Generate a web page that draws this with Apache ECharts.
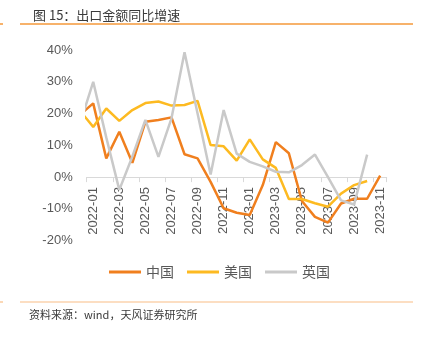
<!DOCTYPE html>
<html>
<head>
<meta charset="utf-8">
<script src="https://cdn.jsdelivr.net/npm/echarts@6/dist/echarts.min.js"></script>
<style>
html,body{margin:0;padding:0;background:#fff;}
#chart{width:422px;height:342px;}
</style>
</head>
<body>
<div id="chart"></div>
<script>
// months (first one, 2021-12, lies just left of the visible axis and is clipped)
var months = ['2021-12','2022-01','2022-02','2022-03','2022-04','2022-05','2022-06','2022-07','2022-08','2022-09','2022-10','2022-11','2022-12',
              '2023-01','2023-02','2023-03','2023-04','2023-05','2023-06','2023-07','2023-08','2023-09','2023-10','2023-11'];
var china = [19.7, 23.2, 5.9, 14.3, 4.5, 17.4, 18.0, 18.8, 7.2, 5.9, -1.5, -9.8, -11.2, -11.9, -2.5, 11.0, 7.5, -7.5, -12.5, -14.3, -8.3, -6.8, -6.8, 0.5];
var usa   = [20.8, 15.8, 21.6, 17.7, 21.1, 23.3, 23.8, 22.5, 22.7, 24.0, 10.1, 9.7, 5.2, 11.9, 5.6, 2.9, -6.9, -6.9, -8.2, -9.3, -5.2, -2.5, -1.2, null];
var uk    = [17.0, 30.0, 12.5, -4.0, 6.5, 18.0, 6.4, 18.5, 39.3, 20.0, 0.8, 21.1, 7.4, 4.8, 3.4, 1.7, 1.5, 3.8, 7.1, 0.0, -7.3, -8.6, 7.1, null];
var seriesNames = ['中国', '美国', '英国'];
var yTicks = [-20, -10, 0, 10, 20, 30, 40];
var titleText = '图 15：出口金额同比增速';
var sourceText = '资料来源：wind，天风证券研究所';

var axisCats = months.slice(1);
function pairs(arr) {
  return arr.map(function (v, i) { return [i - 1, v]; });
}
var FONT = "'Liberation Sans','Noto Sans CJK SC',sans-serif";
var colors = ['#F07F1E', '#FDBA21', '#C9C9C9'];

var gridTop = 50, gridBottomPx = 240.7;
var yMin = yTicks[0], yMax = yTicks[yTicks.length - 1];
// move the category axis up onto the zero line of the value axis
var zeroOffset = -((gridBottomPx - gridTop) * (0 - yMin) / (yMax - yMin));

var chart = echarts.init(document.getElementById('chart'), null, {renderer: 'canvas'});
chart.setOption({
  animation: false,
  backgroundColor: '#ffffff',
  textStyle: {fontFamily: FONT},
  title: {
    text: titleText,
    left: 28, top: 4,
    textStyle: {fontSize: 13, fontWeight: 'normal', color: '#3a3a3a', fontFamily: "'Noto Sans CJK SC',sans-serif"}
  },
  graphic: [
    {type: 'line', shape: {x1: 20, y1: 24, x2: 413, y2: 24}, style: {stroke: '#F5983A', lineWidth: 1.5}},
    {type: 'line', shape: {x1: 0, y1: 24, x2: 3, y2: 24}, style: {stroke: '#F5983A', lineWidth: 1.5}},
    {type: 'line', shape: {x1: 20, y1: 302, x2: 413, y2: 302}, style: {stroke: '#F9BE86', lineWidth: 1.2}},
    {type: 'line', shape: {x1: 0, y1: 302, x2: 3, y2: 302}, style: {stroke: '#F9BE86', lineWidth: 1.2}},
    {type: 'text', left: 29, top: 309, style: {text: sourceText, fill: '#3a3a3a', font: "11px 'Noto Sans CJK SC',sans-serif"}}
  ],
  legend: {
    left: 109, top: 265,
    icon: 'rect', itemWidth: 32, itemHeight: 3, itemGap: 13,
    padding: 0,
    textStyle: {fontSize: 14, color: '#595959', fontFamily: "'Noto Sans CJK SC',sans-serif"},
    data: seriesNames
  },
  grid: {left: 86.7, right: 35.3, top: gridTop, bottom: 342 - gridBottomPx, containLabel: false},
  xAxis: [
    {
      type: 'category', data: axisCats, boundaryGap: true, position: 'bottom',
      offset: zeroOffset,
      axisLine: {show: true, onZero: false, lineStyle: {color: '#D9D9D9', width: 1}},
      axisTick: {show: true, length: 5, lineStyle: {color: '#D9D9D9'}},
      axisLabel: {interval: 1, rotate: 90, align: 'right', verticalAlign: 'middle', margin: 10,
                  fontSize: 13, color: '#595959', fontFamily: FONT},
      splitLine: {show: false}
    },
    {
      type: 'value', min: -0.5, max: 22.5, show: false, position: 'top'
    }
  ],
  yAxis: {
    type: 'value', min: yMin, max: yMax, interval: 10,
    axisLine: {show: false}, axisTick: {show: false}, splitLine: {show: false},
    axisLabel: {formatter: '{value}%', fontSize: 13, color: '#595959', margin: 14, fontFamily: FONT}
  },
  series: [
    {name: seriesNames[0], type: 'line', xAxisIndex: 1, data: pairs(china), symbol: 'none', clip: true,
     lineStyle: {width: 2.5, color: colors[0]}, itemStyle: {color: colors[0]}},
    {name: seriesNames[1], type: 'line', xAxisIndex: 1, data: pairs(usa), symbol: 'none', clip: true,
     lineStyle: {width: 2.5, color: colors[1]}, itemStyle: {color: colors[1]}},
    {name: seriesNames[2], type: 'line', xAxisIndex: 1, data: pairs(uk), symbol: 'none', clip: true,
     lineStyle: {width: 2.5, color: colors[2]}, itemStyle: {color: colors[2]}}
  ]
});
</script>
</body>
</html>
